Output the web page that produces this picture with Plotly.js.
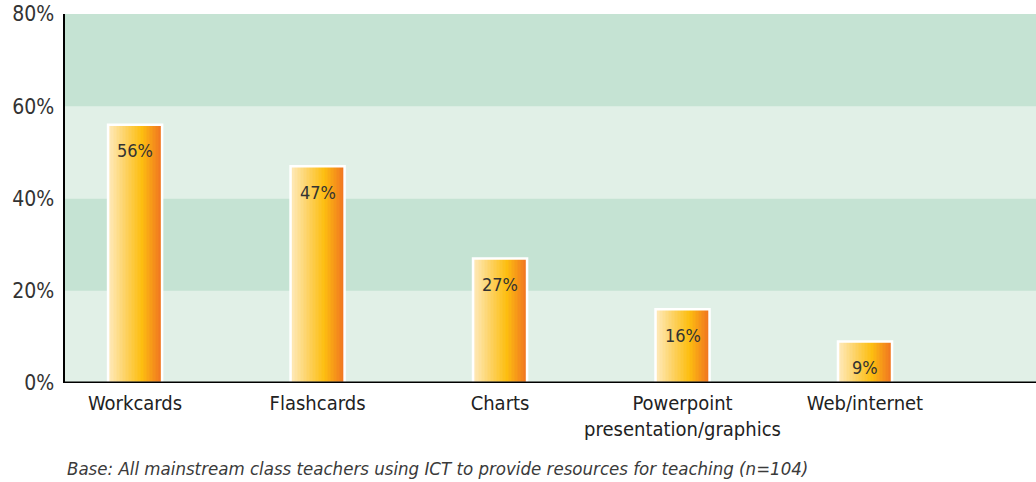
<!DOCTYPE html>
<html>
<head>
<meta charset="utf-8">
<script src="https://cdn.plot.ly/plotly-3.0.1.min.js"></script>
<style>
html,body{margin:0;padding:0;background:#fff;}
#chart{width:1036px;height:482px;}
</style>
</head>
<body>
<div id="chart"></div>
<script>
// ---- data ----
const categories = ["Workcards", "Flashcards", "Charts", "Powerpoint<br>presentation/graphics", "Web/internet"];
const values = [56, 47, 27, 16, 9];
const valueLabels = ["56%", "47%", "27%", "16%", "9%"];
const yTickValues = [0, 20, 40, 60, 80];
const yTickLabels = ["0%", "20%", "40%", "60%", "80%"];
const footnote = "Base: All mainstream class teachers using ICT to provide resources for teaching (n=104)";

// ---- style ----
const FONT = '"Liberation Sans Narrow", "DejaVu Sans Condensed", "Liberation Sans", sans-serif';
const BAR_W = 0.296;
const N_STRIPS = 36;
const stops = [
  [0.0, [254, 234, 190]],
  [0.35, [253, 208, 90]],
  [0.62, [253, 190, 16]],
  [1.0, [240, 112, 34]]
];
function gradColor(t) {
  for (let i = 0; i < stops.length - 1; i++) {
    const [t0, c0] = stops[i], [t1, c1] = stops[i + 1];
    if (t >= t0 && t <= t1) {
      const f = (t - t0) / (t1 - t0);
      const c = c0.map((v, k) => Math.round(v + (c1[k] - v) * f));
      return `rgb(${c[0]},${c[1]},${c[2]})`;
    }
  }
  return 'rgb(240,112,34)';
}

const xIdx = categories.map((_, i) => i);
const traces = [];
const sw = BAR_W / N_STRIPS;
for (let s = 0; s < N_STRIPS; s++) {
  traces.push({
    type: 'bar',
    x: xIdx,
    y: values,
    width: sw * 1.05,
    offset: -BAR_W / 2 + s * sw,
    marker: {color: gradColor((s + 0.5) / N_STRIPS), line: {width: 0}},
    hoverinfo: 'skip',
    showlegend: false
  });
}
// white outline
traces.push({
  type: 'bar',
  x: xIdx,
  y: values,
  width: BAR_W,
  offset: -BAR_W / 2,
  marker: {color: 'rgba(0,0,0,0)', line: {color: '#ffffff', width: 2.5}},
  hoverinfo: 'skip',
  showlegend: false
});

// bands
const shapes = [];
for (let i = 0; i < yTickValues.length - 1; i++) {
  shapes.push({
    type: 'rect', xref: 'paper', yref: 'y', layer: 'below',
    x0: 0, x1: 1, y0: yTickValues[i], y1: yTickValues[i + 1],
    fillcolor: i % 2 === 0 ? '#e1f0e7' : '#c5e3d3', line: {width: 0}
  });
}

const annotations = values.map((v, i) => ({
  x: i, y: v, xref: 'x', yref: 'y', text: valueLabels[i], showarrow: false,
  yanchor: 'middle', yshift: -26,
  font: {family: FONT, size: 18, color: '#333333'}
}));
annotations.push({
  xref: 'paper', yref: 'paper', x: 0, y: -0.233, xanchor: 'left', yanchor: 'middle',
  text: '<i>' + footnote + '</i>', showarrow: false,
  font: {family: FONT, size: 18.5, color: '#3a3a3a'}
});

const layout = {
  width: 1036, height: 482,
  margin: {l: 65, r: 0, t: 14, b: 99},
  paper_bgcolor: '#ffffff', plot_bgcolor: '#e1f0e7',
  barmode: 'overlay', bargap: 0,
  showlegend: false,
  font: {family: FONT, color: '#222'},
  xaxis: {
    type: 'linear', range: [-0.384, 4.937],
    tickvals: xIdx, ticktext: categories,
    showgrid: false, zeroline: false, ticks: '',
    showline: false,
    tickfont: {family: FONT, size: 20, color: '#222'},
    ticklabelstandoff: 6
  },
  yaxis: {
    range: [0, 80], tickvals: yTickValues, ticktext: yTickLabels,
    showgrid: false, zeroline: false, ticks: '',
    showline: true, linecolor: '#000', linewidth: 2.5,
    tickfont: {family: FONT, size: 21, color: '#333'},
    ticklabelstandoff: 4
  },
  shapes: shapes.concat([{
    type: 'line', xref: 'paper', yref: 'y', x0: 0, x1: 1, y0: 0, y1: 0,
    line: {color: '#000', width: 3}, layer: 'above'
  }]),
  annotations: annotations
};

Plotly.newPlot('chart', traces, layout, {displayModeBar: false, staticPlot: true});
</script>
</body>
</html>
